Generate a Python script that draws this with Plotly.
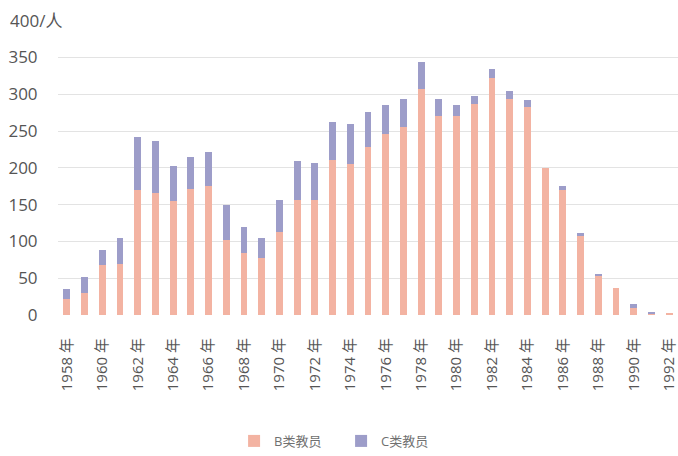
import plotly.graph_objects as go

years = list(range(1958, 1993))
b_teachers = [22, 30, 68, 70, 170, 166, 155, 171, 175, 102, 84, 78, 113, 156, 156, 211, 205, 229,
              246, 256, 307, 271, 270, 287, 322, 294, 283, 200, 170, 107, 54, 37, 10, 2, 2]
c_teachers = [13, 22, 20, 34, 72, 70, 47, 44, 46, 48, 35, 27, 44, 53, 51, 51, 55, 47,
              40, 38, 37, 22, 15, 11, 12, 10, 9, 0, 5, 4, 1, 0, 5, 1, 0]
tick_years = list(range(1958, 1993, 2))
tick_labels = [f"{y} 年" for y in tick_years]
y_ticks = [0, 50, 100, 150, 200, 250, 300, 350, 400]
y_labels = ["0", "50", "100", "150", "200", "250", "300", "350", ""]
y_top_label = "400/人"

font_family = "Open Sans, Noto Sans CJK SC, sans-serif"
text_color = "#555555"

fig = go.Figure()
fig.add_trace(go.Bar(x=years, y=b_teachers, name="B类教员", marker_color="#f3b3a2",
                     marker_line_width=0, width=0.38))
fig.add_trace(go.Bar(x=years, y=c_teachers, name="C类教员", marker_color="#9d9dc9",
                     marker_line_width=0, width=0.38))

fig.update_layout(
    barmode="stack",
    width=678, height=456,
    margin=dict(l=58, r=0, t=20, b=141, autoexpand=False),
    plot_bgcolor="white", paper_bgcolor="white",
    font=dict(family=font_family, color=text_color, size=14),
    showlegend=True,
    legend=dict(orientation="h", x=0.284, xanchor="left", y=-0.427, yanchor="middle",
                traceorder="normal", entrywidth=62, entrywidthmode="pixels",
                font=dict(size=13, color="#707070"), itemwidth=30),
)
fig.update_xaxes(range=[1957.5, 1992.5], tickvals=tick_years, ticktext=tick_labels,
                 tickangle=-90, showgrid=False, zeroline=False, showline=False,
                 ticks="outside", ticklen=16, tickcolor="rgba(0,0,0,0)", automargin=False,
                 ticklabeloverflow="allow",
                 tickfont=dict(size=15, color=text_color))
fig.update_yaxes(range=[0, 401], tickvals=y_ticks, ticktext=y_labels,
                 showgrid=True, gridcolor="#e3e3e3", gridwidth=1, zeroline=False,
                 showline=False, ticks="outside", ticklen=16, tickcolor="rgba(0,0,0,0)",
                 automargin=False,
                 tickfont=dict(size=17, color=text_color))
fig.add_annotation(text=y_top_label, xref="paper", yref="y", x=-50 / 620, y=400,
                   xanchor="left", yanchor="middle", showarrow=False,
                   font=dict(size=17, color=text_color))

# remove the default 8px page margin so the figure fills the window exactly
fig.write_html("out.html", config={"displayModeBar": False},
               post_script="document.body.style.margin='0';document.body.style.overflow='hidden';")
